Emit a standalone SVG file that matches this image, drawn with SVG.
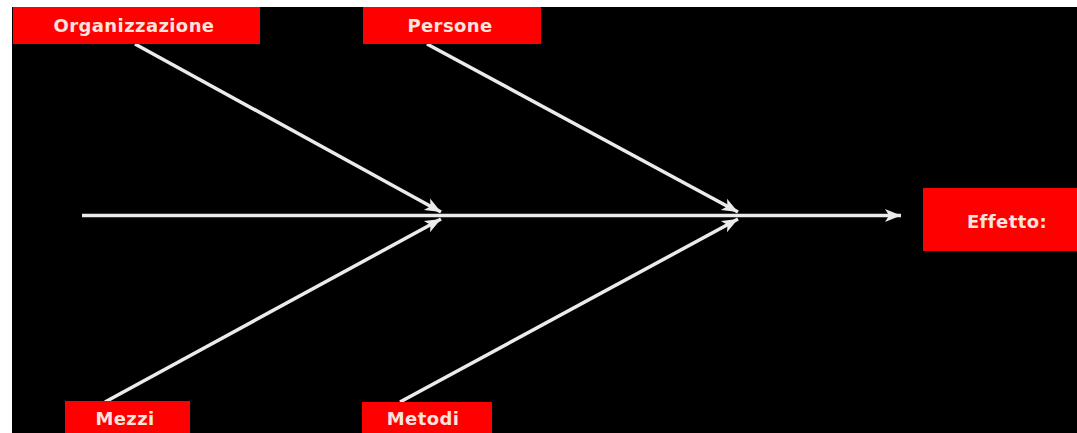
<svg xmlns="http://www.w3.org/2000/svg" width="1077" height="433" viewBox="0 0 1077 433">
<style>
.box{fill:#fe0000;}
.lbl{font-family:"DejaVu Sans",Verdana,sans-serif;font-size:18px;font-weight:bold;fill:#fbe3de;text-anchor:middle;letter-spacing:0.4px;}
.ln{stroke:#ebebeb;stroke-width:3.5;fill:none;marker-end:url(#ah);}
</style>
<defs>
<marker id="ah" markerUnits="userSpaceOnUse" markerWidth="18" markerHeight="16" refX="16" refY="8" orient="auto">
<path d="M0,1.5 L16,8 L0,14.5 L4,8 Z" fill="#ebebeb"/>
</marker>
</defs>
<rect x="0" y="0" width="1077" height="433" fill="#ffffff"/>
<rect x="12" y="7" width="1065" height="426" fill="#000000"/>
<g id="connectors">
<line class="ln" x1="82" y1="215.5" x2="901" y2="215.5"/>
<line class="ln" x1="135" y1="44" x2="441" y2="212"/>
<line class="ln" x1="427" y1="44" x2="738" y2="212"/>
<line class="ln" x1="105" y1="402" x2="441" y2="219"/>
<line class="ln" x1="400" y1="402" x2="738" y2="219"/>
</g>
<g id="organizzazione">
<rect class="box" x="13" y="7" width="247" height="37"/>
<text class="lbl" x="134" y="32">Organizzazione</text>
</g>
<g id="persone">
<rect class="box" x="363" y="7" width="178" height="37"/>
<text class="lbl" x="450" y="32">Persone</text>
</g>
<g id="mezzi">
<rect class="box" x="65" y="401" width="125" height="32"/>
<text class="lbl" x="125" y="425">Mezzi</text>
</g>
<g id="metodi">
<rect class="box" x="362" y="402" width="130" height="31"/>
<text class="lbl" x="423" y="425">Metodi</text>
</g>
<g id="effetto">
<rect class="box" x="923" y="188" width="154" height="63"/>
<text class="lbl" x="1007" y="228">Effetto:</text>
</g>
</svg>
